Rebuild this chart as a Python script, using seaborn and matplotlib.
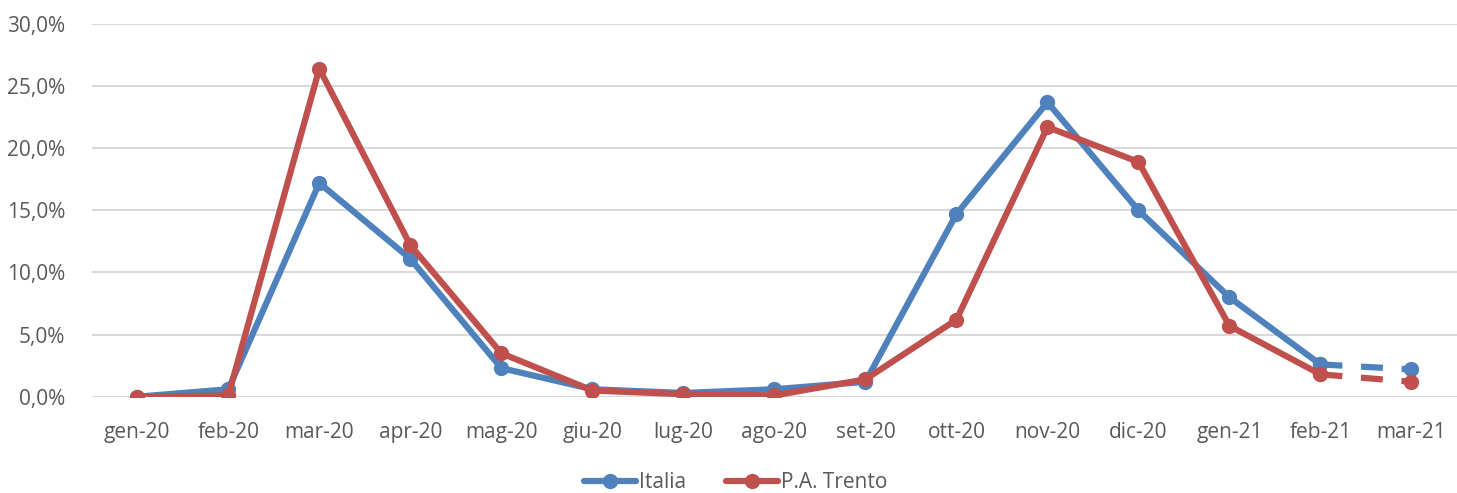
import matplotlib
matplotlib.use("Agg")
import matplotlib.pyplot as plt
import seaborn as sns
import pandas as pd
import numpy as np
from matplotlib.ticker import FuncFormatter
from matplotlib.lines import Line2D

months = ["gen-20", "feb-20", "mar-20", "apr-20", "mag-20", "giu-20", "lug-20",
          "ago-20", "set-20", "ott-20", "nov-20", "dic-20", "gen-21", "feb-21", "mar-21"]
italia = [0.0, 0.6, 17.2, 11.1, 2.3, 0.6, 0.3, 0.6, 1.2, 14.7, 23.7, 15.0, 8.0, 2.6, 2.2]
trento = [0.0, 0.1, 26.4, 12.2, 3.5, 0.5, 0.2, 0.1, 1.4, 6.2, 21.7, 18.9, 5.7, 1.8, 1.2]
series_names = ["Italia", "P.A. Trento"]
colors = ["#4F81BD", "#C0504D"]

sns.set_style("white")
plt.rcParams['font.family'] = ['Open Sans', 'DejaVu Sans']

fig = plt.figure(figsize=(14.57, 4.93), dpi=100)
ax = fig.add_axes([0.063, 0.1953, 0.937, 0.756])

n = len(months)
x = np.arange(n)
for name, vals, c in zip(series_names, [italia, trento], colors):
    v = np.array(vals) / 100.0
    solid = pd.DataFrame({"x": x[:n-1], "y": v[:n-1]})
    sns.lineplot(data=solid, x="x", y="y", ax=ax, color=c, linewidth=4.5,
                 marker="o", markersize=11, markeredgewidth=0)
    dash = pd.DataFrame({"x": x[n-2:], "y": v[n-2:]})
    sns.lineplot(data=dash, x="x", y="y", ax=ax, color=c, linewidth=4.5,
                 linestyle=(0, (3.5, 3.0)), marker="o", markersize=11, markeredgewidth=0)

ax.set_xlim(-0.5, n - 0.5)
ax.set_ylim(0, 0.30)
ax.set_yticks(np.arange(0, 0.301, 0.05))
ax.yaxis.set_major_formatter(FuncFormatter(lambda v, p: f"{v*100:.1f}%".replace(".", ",")))
ax.set_xticks(x)
ax.set_xticklabels(months)
ax.set_xlabel("")
ax.set_ylabel("")
ax.grid(axis="y", color="#D9D9D9", linewidth=1.5)
ax.set_axisbelow(True)
for s in ax.spines.values():
    s.set_visible(False)
ax.tick_params(axis="both", length=0, labelsize=15, colors="#595959")
ax.tick_params(axis="x", pad=18)
ax.tick_params(axis="y", pad=19)
for lab in ax.get_yticklabels():
    lab.set_clip_on(False)

handles = [Line2D([0], [0], color=c, linewidth=4.5, marker="o", markersize=11,
                  markeredgewidth=0) for c in colors]
leg = fig.legend(handles, series_names, loc="lower center", bbox_to_anchor=(0.505, -0.038),
                 ncol=2, frameon=False, fontsize=15, handlelength=2.5,
                 columnspacing=1.9, handletextpad=0.15)
for t in leg.get_texts():
    t.set_color("#595959")

fig.savefig("out.png", dpi=100)
